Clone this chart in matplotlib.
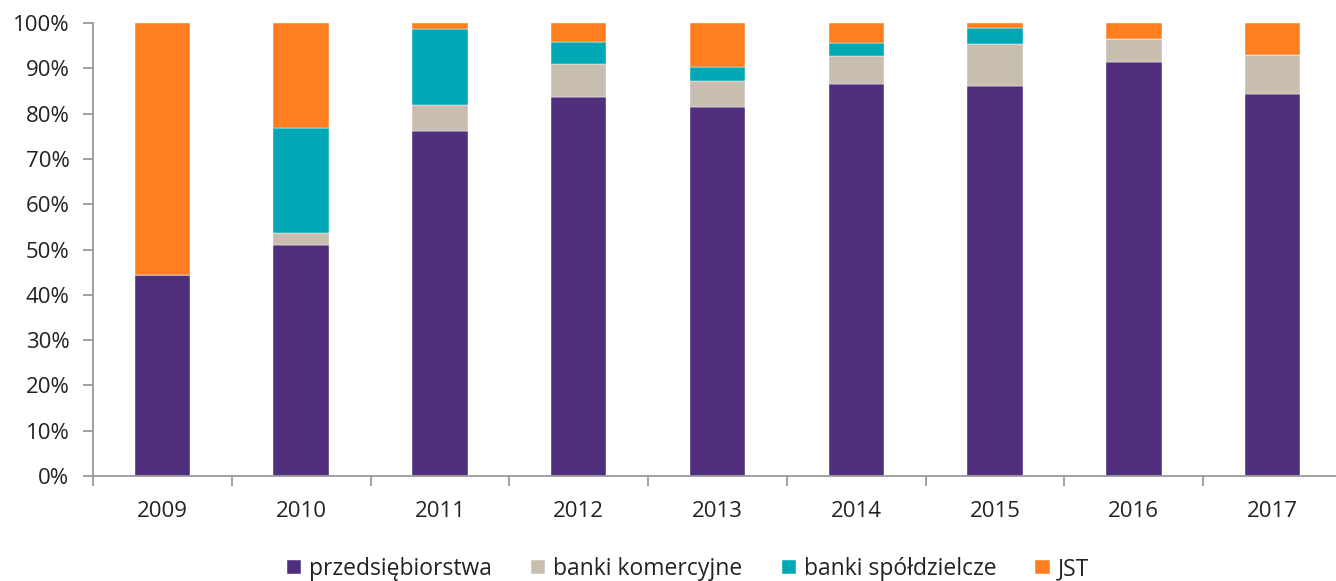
import matplotlib
matplotlib.use("Agg")
import matplotlib.pyplot as plt
import numpy as np
from matplotlib.ticker import FixedLocator, PercentFormatter

plt.rcParams['font.family'] = ['Open Sans', 'DejaVu Sans']

years = ['2009', '2010', '2011', '2012', '2013', '2014', '2015', '2016', '2017']
series_names = ['przedsiębiorstwa', 'banki komercyjne', 'banki spółdzielcze', 'JST']
przedsiebiorstwa = [44.4, 51.1, 76.2, 83.7, 81.4, 86.5, 86.1, 91.3, 84.4]
banki_komercyjne = [0.0, 2.5, 5.7, 7.2, 5.9, 6.3, 9.2, 5.2, 8.6]
banki_spoldzielcze = [0.0, 23.2, 16.7, 5.0, 2.9, 2.7, 3.5, 0.0, 0.0]
jst = [55.6, 23.2, 1.4, 4.1, 9.8, 4.5, 1.2, 3.5, 7.0]

colors = ['#4F2F7C', '#C8BEB0', '#00A8B5', '#FF7F20']

fig = plt.figure(figsize=(13.36, 5.81), dpi=100)
ax = fig.add_axes([93 / 1336, 105 / 581, (1336 - 93) / 1336, 453 / 581])

x = np.arange(len(years))
bottom = np.zeros(len(years))
for name, vals, c in zip(series_names,
                         [przedsiebiorstwa, banki_komercyjne, banki_spoldzielcze, jst],
                         colors):
    vals = np.array(vals)
    ax.bar(x, vals, 0.40, bottom=bottom, color=c, label=name,
           edgecolor='white', linewidth=0.3)
    bottom += vals

ax.set_ylim(0, 100)
ax.set_xlim(-0.5, 8.5 - 6 / 138.7)

ax.yaxis.set_major_locator(FixedLocator(np.arange(0, 101, 10)))
ax.yaxis.set_major_formatter(PercentFormatter(decimals=0))
ax.set_xticks(x)
ax.set_xticklabels(years)
ax.xaxis.set_minor_locator(FixedLocator(np.arange(-0.5, 9, 1)))

axis_grey = '#999999'
for side in ['top', 'right']:
    ax.spines[side].set_visible(False)
for side in ['left', 'bottom']:
    ax.spines[side].set_color(axis_grey)
    ax.spines[side].set_linewidth(1.3)

ax.tick_params(axis='y', length=7, width=1.3, color=axis_grey, labelsize=16,
               labelcolor='#222222', pad=10)
ax.tick_params(axis='x', which='major', length=0, labelsize=16,
               labelcolor='#222222', pad=18)
ax.tick_params(axis='x', which='minor', length=7, width=1.3, color=axis_grey)

handles, labels = ax.get_legend_handles_labels()
fig.legend(handles, labels, loc='center', bbox_to_anchor=(688 / 1336, 12 / 581),
           ncol=4, frameon=False, fontsize=16.5, handlelength=0.62,
           handleheight=0.62, handletextpad=0.35, columnspacing=1.7,
           labelcolor='#222222')

fig.savefig('out.png', dpi=100)
